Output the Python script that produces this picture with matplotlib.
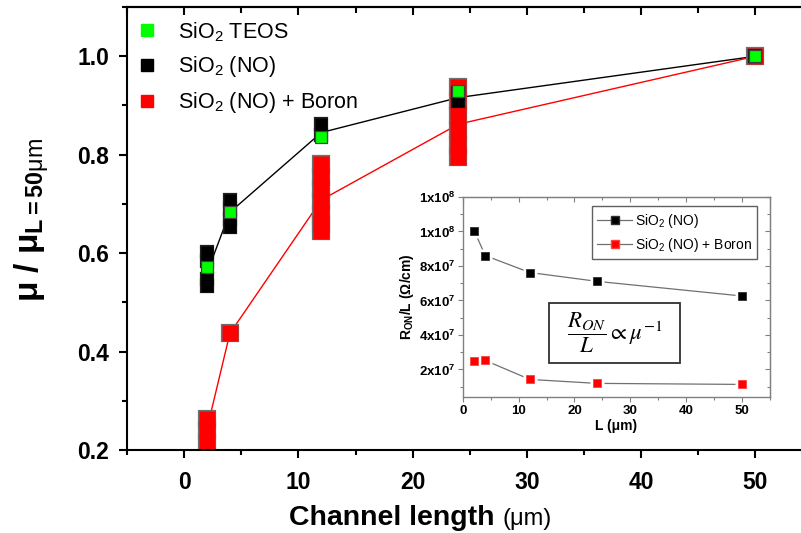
import matplotlib
matplotlib.use("Agg")
import matplotlib.pyplot as plt
import numpy as np
from matplotlib.lines import Line2D
from matplotlib.patches import Rectangle
from matplotlib.ticker import MultipleLocator, FixedLocator, FixedFormatter

plt.rcParams['font.family'] = ['Liberation Sans', 'DejaVu Sans']
plt.rcParams['mathtext.fontset'] = 'custom'
plt.rcParams['mathtext.rm'] = 'Liberation Sans'
plt.rcParams['mathtext.bf'] = 'Liberation Sans:bold'
plt.rcParams['mathtext.it'] = 'Liberation Sans:italic'

# ---- main plot data: normalised mobility vs channel length ----
L = [2, 4, 12, 24, 50]
teos = [0.572, 0.684, 0.836, 0.930, 1.0]
no_mean = [0.56, 0.683, 0.845, 0.916, 1.0]
boron_mean = [0.243, 0.437, 0.708, 0.862, 1.0]
# individual devices measured at each channel length
no_devices = [[0.603, 0.585, 0.548, 0.533],
              [0.707, 0.69, 0.67, 0.654],
              [0.862, 0.84],
              [0.925, 0.909],
              [1.0]]
boron_devices = [[0.263, 0.24, 0.215],
                 [0.437],
                 [0.781, 0.755, 0.73, 0.705, 0.68, 0.66, 0.644],
                 [0.938, 0.91, 0.88, 0.85, 0.82, 0.795],
                 [1.0]]

# ---- inset data: on-resistance per unit length ----
L_inset = [2, 4, 12, 24, 50]
ron_no = [1.005e8, 8.6e7, 7.62e7, 7.11e7, 6.26e7]
ron_boron = [2.5e7, 2.52e7, 1.42e7, 1.19e7, 1.13e7]
inset_yticks = [2e7, 4e7, 6e7, 8e7, 1e8, 1.2e8]
inset_ylabels = [r'$\mathbf{2x10^{7}}$', r'$\mathbf{4x10^{7}}$', r'$\mathbf{6x10^{7}}$',
                 r'$\mathbf{8x10^{7}}$', r'$\mathbf{1x10^{8}}$', r'$\mathbf{1x10^{8}}$']

fig = plt.figure(figsize=(8.01, 5.33), dpi=100)
ax = fig.add_axes([0.1586, 0.1557, 0.8559, 0.8311])

# connecting lines through the mean values
ax.plot(L, no_mean, color='black', lw=1.0, zorder=1)
ax.plot(L, boron_mean, color='#ff0000', lw=1.0, zorder=1)


def device_markers(values, color, edge, size, z):
    xs = [x for x, vals in zip(L, values) for _ in vals]
    ys = [v for vals in values for v in vals]
    # outline pass, then fill pass so overlapping squares merge into one block
    ax.plot(xs, ys, ls='none', marker='s', ms=size, mfc=color, mec=edge, mew=1.6, zorder=z)
    ax.plot(xs, ys, ls='none', marker='s', ms=size, mfc=color, mec='none', zorder=z + 0.5)


device_markers(boron_devices, '#ff0000', '#707070', 11.5, 2)
device_markers(no_devices, 'black', '#202020', 8.6, 4)
ax.plot(L, teos, ls='none', marker='s', ms=8.6, mfc='#00ff00', mec='#404040', mew=0.9, zorder=6)

ax.set_xlim(-5, 55)
ax.set_ylim(0.2, 1.1)
ax.xaxis.set_major_locator(FixedLocator([0, 10, 20, 30, 40, 50]))
ax.xaxis.set_minor_locator(MultipleLocator(5))
ax.yaxis.set_major_locator(FixedLocator([0.2, 0.4, 0.6, 0.8, 1.0]))
ax.yaxis.set_minor_locator(MultipleLocator(0.1))
ax.yaxis.set_major_formatter(FixedFormatter(['0.2', '0.4', '0.6', '0.8', '1.0']))
for s in ax.spines.values():
    s.set_linewidth(1.5)
ax.spines['right'].set_visible(False)
ax.tick_params(axis='both', which='major', direction='out', length=6, width=1.5,
               labelsize=16.5, pad=7)
ax.tick_params(axis='both', which='minor', direction='out', length=3.5, width=1.5)
ax.tick_params(axis='x', pad=9)
for lab in ax.get_xticklabels() + ax.get_yticklabels():
    lab.set_fontweight('bold')

top = ax.secondary_xaxis('top')
top.xaxis.set_major_locator(FixedLocator([0, 10, 20, 30, 40, 50]))
top.xaxis.set_minor_locator(MultipleLocator(5))
top.tick_params(which='major', direction='in', length=6, width=1.5, labeltop=False)
top.tick_params(which='minor', direction='in', length=4, width=1.5)
top.spines['top'].set_linewidth(1.5)

# legend
handles = [Line2D([], [], ls='none', marker='s', ms=8, mfc='#00ff00', mec='#00ff00'),
           Line2D([], [], ls='none', marker='s', ms=8, mfc='black', mec='black'),
           Line2D([], [], ls='none', marker='s', ms=8, mfc='#ff0000', mec='#ff0000')]
labels = ['SiO$_2$ TEOS', 'SiO$_2$ (NO)', 'SiO$_2$ (NO) + Boron']
ax.legend(handles, labels, loc='upper left', bbox_to_anchor=(136 / 801, 1 - 20 / 533),
          bbox_transform=fig.transFigure, frameon=False, fontsize=15.5,
          handlelength=1.0, handletextpad=0.94, labelspacing=0.5,
          borderpad=0, borderaxespad=0)

# axis labels
fig.text(0.041, 0.588, 'μ / μ$_{\\mathbf{L=50}\\mathrm{μm}}$', rotation=90,
         ha='center', va='center', fontsize=24, fontweight='bold')
fig.text(495 / 801, 1 - 525 / 533, 'Channel length', ha='right', va='baseline',
         fontsize=20.5, fontweight='bold')
fig.text(503 / 801, 1 - 525 / 533, '(μm)', ha='left', va='baseline', fontsize=17)

# ---- inset ----
ins = fig.add_axes([463 / 801, 136 / 533, 306.5 / 801, 200 / 533])
frame_col = '#808080'
ins.plot(L_inset, ron_no, color='#707070', lw=0.9, zorder=1)
ins.plot(L_inset, ron_boron, color='#707070', lw=0.9, zorder=1)
# white halo keeps the line clear of each marker
ins.plot(L_inset, ron_no, ls='none', marker='s', ms=10, mfc='white', mec='none', zorder=2)
ins.plot(L_inset, ron_boron, ls='none', marker='s', ms=10, mfc='white', mec='none', zorder=2)
ins.plot(L_inset, ron_no, ls='none', marker='s', ms=6, mfc='black', mec='#303030', mew=0.6, zorder=3)
ins.plot(L_inset, ron_boron, ls='none', marker='s', ms=6, mfc='#ff0000', mec='#ff4040', mew=0.6, zorder=3)

ins.set_xlim(0, 55)
ins.set_ylim(4e6, 1.2e8)
ins.xaxis.set_major_locator(FixedLocator([0, 10, 20, 30, 40, 50]))
ins.xaxis.set_minor_locator(MultipleLocator(5))
ins.yaxis.set_major_locator(FixedLocator(inset_yticks))
ins.yaxis.set_major_formatter(FixedFormatter(inset_ylabels))
ins.yaxis.set_minor_locator(MultipleLocator(1e7))
for s in ins.spines.values():
    s.set_color(frame_col)
    s.set_linewidth(1.0)
ins.tick_params(which='major', direction='out', length=3.5, width=0.8, color=frame_col,
                labelsize=9.5, pad=2)
ins.tick_params(which='minor', direction='out', length=2, width=0.8, color=frame_col)
for lab in ins.get_xticklabels():
    lab.set_fontweight('bold')

itop = ins.secondary_xaxis('top')
itop.xaxis.set_major_locator(FixedLocator([0, 10, 20, 30, 40, 50]))
itop.xaxis.set_minor_locator(MultipleLocator(5))
itop.tick_params(which='major', direction='in', length=3.5, width=0.8, color=frame_col, labeltop=False)
itop.tick_params(which='minor', direction='in', length=2, width=0.8, color=frame_col)
itop.spines['top'].set_color(frame_col)
iright = ins.secondary_yaxis('right')
iright.yaxis.set_major_locator(FixedLocator(inset_yticks))
iright.yaxis.set_minor_locator(MultipleLocator(1e7))
iright.tick_params(which='major', direction='in', length=3.5, width=0.8, color=frame_col, labelright=False)
iright.tick_params(which='minor', direction='in', length=2, width=0.8, color=frame_col)
iright.spines['right'].set_color(frame_col)

ins.set_xlabel('L (μm)', fontsize=10, fontweight='bold', labelpad=2)
ins.set_ylabel(r'$\mathbf{R_{ON}/L\ (\Omega/cm)}$', fontsize=10, labelpad=2)

ih = [Line2D([], [], color='#707070', lw=0.9, marker='s', ms=6, mfc='black', mec='#303030'),
      Line2D([], [], color='#707070', lw=0.9, marker='s', ms=6, mfc='#ff0000', mec='#ff4040')]
ileg = ins.legend(ih, ['SiO$_2$ (NO)', 'SiO$_2$ (NO) + Boron'], loc='upper right',
                  bbox_to_anchor=(0.96, 0.955), fontsize=10, handlelength=2.5,
                  handletextpad=0.2, borderpad=0.4, labelspacing=0.45,
                  fancybox=False, framealpha=1, borderaxespad=0)
ileg.get_frame().set_edgecolor('#606060')
ileg.get_frame().set_linewidth(1.0)

ins.add_patch(Rectangle((0.28, 0.17), 0.428, 0.30, transform=ins.transAxes,
                        fill=False, edgecolor='#303030', lw=1.3, zorder=4))
ins.text(0.494, 0.32, r'$\dfrac{R_{ON}}{L} \propto \mu^{-1}$', transform=ins.transAxes,
         ha='center', va='center', fontsize=16.5, math_fontfamily='stix', zorder=5)

fig.savefig('out.png', dpi=100)
